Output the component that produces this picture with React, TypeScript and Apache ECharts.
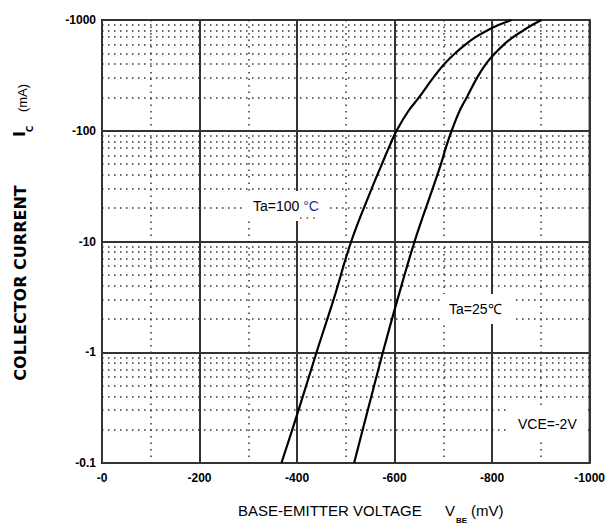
import React, { useEffect, useRef } from 'react';
import * as echarts from 'echarts';

// Axis ticks / labels
const xTicks = [0, 200, 400, 600, 800, 1000];
const xTickLabels = ['-0', '-200', '-400', '-600', '-800', '-1000'];
const yTicks = [0.1, 1, 10, 100, 1000];
const yTickLabels = ['-0.1', '-1', '-10', '-100', '-1000'];
const minorMultipliers = [2, 3, 4, 5, 6, 7, 8, 9];

// Ta = 100 °C curve: base-emitter voltage (mV, magnitude) vs collector current (mA, magnitude)
const vbe100 = [368, 403, 440, 475, 511, 553, 574, 588, 604, 628, 650, 679, 702, 724, 745, 766, 789, 813, 840];
const ic100 = [0.1, 0.3, 1, 3, 10, 30, 50, 70, 100, 150, 200, 300, 400, 500, 600, 700, 800, 900, 1000];

// Ta = 25 °C curve
const vbe25 = [517, 545, 576, 606, 641, 678, 695, 705, 717, 733, 748, 769, 787, 806, 824, 843, 863, 882, 901];
const ic25 = [0.1, 0.3, 1, 3, 10, 30, 50, 70, 100, 150, 200, 300, 400, 500, 600, 700, 800, 900, 1000];

const seriesNames = ['Ta=100 °C', 'Ta=25℃'];

export default function App() {
  const ref = useRef<HTMLDivElement>(null);

  useEffect(() => {
    if (!ref.current) return;
    const chart = echarts.init(ref.current, null, { renderer: 'svg' });

    const minorY: any[] = [];
    yTicks.slice(0, -1).forEach((d) =>
      minorMultipliers.forEach((k) => minorY.push({ yAxis: Number((d * k).toPrecision(3)) }))
    );

    const labelFont = {
      color: '#000',
      fontSize: 12,
      fontWeight: 'bold',
      fontFamily: '"Liberation Sans", Arial, sans-serif',
    };
    const curveStyle = { color: '#000', width: 2.2 };

    chart.setOption({
      animation: false,
      backgroundColor: '#fff',
      grid: {
        left: 102,
        right: 15,
        top: 20,
        bottom: 61,
        show: true,
        borderColor: '#111',
        borderWidth: 2,
        backgroundColor: 'transparent',
      },
      xAxis: {
        type: 'value',
        min: 0,
        max: 1000,
        interval: 200,
        axisLine: { show: false },
        axisTick: { show: false },
        axisLabel: {
          ...labelFont,
          margin: 9,
          formatter: (v: number) => {
            const i = xTicks.indexOf(Math.round(v));
            return i >= 0 ? xTickLabels[i] : '';
          },
        },
        splitLine: { show: true, lineStyle: { color: '#333', width: 2 } },
        minorTick: { show: false, splitNumber: 2 },
        minorSplitLine: { show: true, lineStyle: { color: '#333', width: 1.5, type: [1.5, 5] } },
      },
      yAxis: {
        type: 'log',
        logBase: 10,
        min: 0.1,
        max: 1000,
        axisLine: { show: false },
        axisTick: { show: false },
        axisLabel: {
          ...labelFont,
          margin: 6,
          formatter: (v: number) => {
            const i = yTicks.findIndex((t) => Math.abs(Math.log10(t) - Math.log10(v)) < 0.01);
            return i >= 0 ? yTickLabels[i] : '';
          },
        },
        splitLine: { show: true, lineStyle: { color: '#333', width: 2 } },
      },
      series: [
        {
          name: seriesNames[0],
          type: 'line',
          data: vbe100.map((v, i) => [v, ic100[i]]),
          showSymbol: false,
          smooth: 0.4,
          lineStyle: curveStyle,
          z: 10,
          markLine: {
            silent: true,
            symbol: ['none', 'none'],
            label: { show: false },
            lineStyle: { color: '#333', width: 1.5, type: [1.5, 4.5] },
            data: minorY,
            z: 3,
          },
        },
        {
          name: seriesNames[1],
          type: 'line',
          data: vbe25.map((v, i) => [v, ic25[i]]),
          showSymbol: false,
          smooth: 0.4,
          lineStyle: curveStyle,
          z: 10,
        },
      ],
      graphic: [
        {
          type: 'text',
          x: 243,
          y: 206,
          z: 100,
          style: {
            text: 'Ta=100 {d|°C}',
            font: '14px "Liberation Sans", Arial, sans-serif',
            fill: '#000',
            verticalAlign: 'middle',
            align: 'left',
            backgroundColor: '#fff',
            padding: [8, 10, 8, 10],
            rich: { d: { fill: '#1a2a9a', font: '14px "Liberation Sans", Arial, sans-serif' } },
          },
        },
        {
          type: 'line',
          z: 101,
          shape: { x1: 300, y1: 218, x2: 319, y2: 218 },
          style: { stroke: '#e02020', lineWidth: 1.6, lineDash: [1.6, 5] },
        },
        {
          type: 'text',
          x: 442,
          y: 309,
          z: 100,
          style: {
            text: 'Ta=25℃',
            font: '14px "Liberation Sans", Arial, sans-serif',
            fill: '#000',
            verticalAlign: 'middle',
            align: 'left',
            backgroundColor: '#fff',
            padding: [8, 12, 8, 7],
          },
        },
        {
          type: 'text',
          x: 508,
          y: 424,
          z: 100,
          style: {
            text: 'VCE=-2V',
            font: '14px "Liberation Sans", Arial, sans-serif',
            fill: '#000',
            verticalAlign: 'middle',
            align: 'left',
            backgroundColor: '#fff',
            padding: [8, 10, 8, 10],
          },
        },
        // x-axis title
        {
          type: 'text',
          x: 238,
          y: 510,
          style: {
            text: 'BASE-EMITTER VOLTAGE',
            font: '15px "Liberation Sans", Arial, sans-serif',
            fill: '#000',
            verticalAlign: 'middle',
            align: 'left',
          },
        },
        {
          type: 'text',
          x: 445,
          y: 510,
          style: {
            text: 'V',
            font: '15px "Liberation Sans", Arial, sans-serif',
            fill: '#000',
            verticalAlign: 'middle',
            align: 'left',
          },
        },
        {
          type: 'text',
          x: 456,
          y: 520,
          style: {
            text: 'BE',
            font: 'bold 8px "Liberation Sans", Arial, sans-serif',
            fill: '#000',
            verticalAlign: 'middle',
            align: 'left',
          },
        },
        {
          type: 'text',
          x: 471,
          y: 510,
          style: {
            text: '(mV)',
            font: '15px "Liberation Sans", Arial, sans-serif',
            fill: '#000',
            verticalAlign: 'middle',
            align: 'left',
          },
        },
        // y-axis title
        {
          type: 'text',
          x: 20,
          y: 283,
          rotation: Math.PI / 2,
          style: {
            text: 'COLLECTOR CURRENT',
            font: 'bold 16px "DejaVu Sans", sans-serif',
            fill: '#000',
            verticalAlign: 'middle',
            align: 'center',
          },
        },
        {
          type: 'text',
          x: 20,
          y: 134,
          rotation: Math.PI / 2,
          style: {
            text: 'I',
            font: 'bold 15px "DejaVu Sans", sans-serif',
            fill: '#000',
            verticalAlign: 'middle',
            align: 'center',
          },
        },
        {
          type: 'text',
          x: 30,
          y: 129,
          rotation: Math.PI / 2,
          style: {
            text: 'C',
            font: 'bold 9px "DejaVu Sans", sans-serif',
            fill: '#000',
            verticalAlign: 'middle',
            align: 'center',
          },
        },
        {
          type: 'text',
          x: 22,
          y: 98,
          rotation: Math.PI / 2,
          style: {
            text: '(mA)',
            font: '13px "Liberation Sans", Arial, sans-serif',
            fill: '#000',
            verticalAlign: 'middle',
            align: 'center',
          },
        },
      ],
    });

    return () => chart.dispose();
  }, []);

  return (
    <div
      ref={ref}
      style={{ position: 'fixed', left: 0, top: 0, width: 608, height: 524, background: '#fff' }}
    />
  );
}
